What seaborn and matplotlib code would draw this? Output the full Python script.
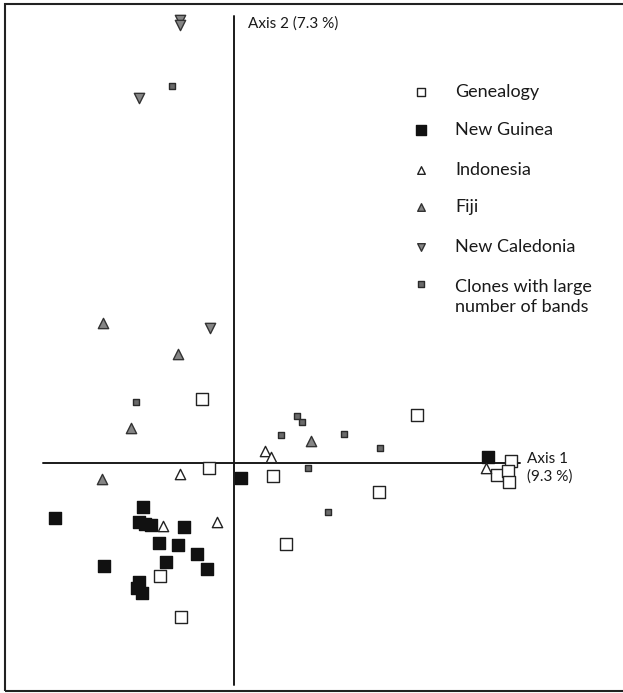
import matplotlib.pyplot as plt
import seaborn as sns
import numpy as np
import pandas as pd
from matplotlib.patches import Rectangle

# ordination scores (axis 1, axis 2), arbitrary units
genealogy_x = [-1.28, -1.00, 1.56, 2.08, 5.80, 7.32, -2.96, -2.12, 11.08, 10.52, 10.96, 11.00]
genealogy_y = [2.56, -0.20, -0.52, -3.24, -1.16, 1.92, -4.52, -6.16, 0.08, -0.48, -0.32, -0.76]

new_guinea_x = [-3.64, -7.16, -3.80, -3.56, -3.32, -2.00, -3.00, -2.24, -1.48, -5.20, -2.72,
                -1.08, -3.80, -3.88, -3.68, 0.28, 10.16]
new_guinea_y = [-1.76, -2.20, -2.36, -2.44, -2.48, -2.56, -3.20, -3.28, -3.64, -4.12, -3.96,
                -4.24, -4.76, -5.00, -5.20, -0.60, 0.24]

indonesia_x = [1.24, 1.48, -2.16, -2.84, -0.68, 10.08]
indonesia_y = [0.48, 0.24, -0.44, -2.52, -2.36, -0.20]

fiji_x = [-5.24, -2.24, -4.12, 3.08, -5.28]
fiji_y = [5.60, 4.36, 1.40, 0.88, -0.64]

new_caledonia_x = [-2.16, -2.16, -3.80, -0.96]
new_caledonia_y = [17.72, 17.52, 14.60, 5.40]

clones_x = [-2.48, -3.92, 2.52, 2.72, 1.88, 4.40, 5.84, 2.96, 3.76]
clones_y = [15.08, 2.44, 1.88, 1.64, 1.12, 1.16, 0.60, -0.20, -1.96]

group_labels = ["Genealogy", "New Guinea", "Indonesia", "Fiji", "New Caledonia",
                ["Clones with large", "number of bands"]]

sns.set_style("white")
plt.rcParams['font.family'] = ['Lato', 'DejaVu Sans']

fig = plt.figure(figsize=(6.23, 6.93), dpi=100)
ax = fig.add_axes([0, 0, 1, 1])

# x, y, marker, face, edge, size, legend size
groups = [
    (genealogy_x, genealogy_y, 's', 'white', '#222222', 72, 40),
    (new_guinea_x, new_guinea_y, 's', '#111111', '#111111', 85, 45),
    (indonesia_x, indonesia_y, '^', 'white', '#222222', 55, 30),
    (fiji_x, fiji_y, '^', '#858585', '#333333', 55, 30),
    (new_caledonia_x, new_caledonia_y, 'v', '#858585', '#333333', 55, 30),
    (clones_x, clones_y, 's', '#6a6a6a', '#2a2a2a', 18, 16),
]

for xs, ys, marker, fc, ec, s, _ in groups:
    df = pd.DataFrame({'x': xs, 'y': ys})
    sns.scatterplot(data=df, x='x', y='y', marker=marker, s=s, color=fc,
                    edgecolor=ec, linewidth=1.0, ax=ax, legend=False, zorder=3)

# the two ordination axes
ax.plot([0, 0], [-8.88, 17.88], color='#1a1a1a', lw=1.4, zorder=2)
ax.plot([-7.64, 11.44], [0, 0], color='#1a1a1a', lw=1.4, zorder=2)

ax.text(0.56, 17.56, "Axis 2 (7.3 %)", fontsize=11, va='center', ha='left', color='#1a1a1a')
ax.text(11.72, 0.16, "Axis 1", fontsize=11, va='center', ha='left', color='#1a1a1a')
ax.text(11.72, -0.56, "(9.3 %)", fontsize=11, va='center', ha='left', color='#1a1a1a')

ax.set_xlim(-9.36, 15.56)
ax.set_ylim(-9.2, 18.52)
ax.set_axis_off()

# legend drawn by hand, in axes fractions
row_y = [92, 130, 170, 207, 247, 284]
for (xs, ys, marker, fc, ec, s, ls), label, py in zip(groups, group_labels, row_y):
    fy = 1 - py / 693
    ax.scatter([421 / 623], [fy], marker=marker, s=ls, facecolor=fc, edgecolor=ec,
               linewidth=1.0, transform=ax.transAxes, clip_on=False)
    lines = label if isinstance(label, list) else [label]
    for i, line in enumerate(lines):
        ty = 1 - (py + 3 * (len(lines) > 1) + 20 * i) / 693
        ax.text(455 / 623, ty, line, transform=ax.transAxes, fontsize=13,
                va='center', ha='left', color='#1a1a1a')

# frame around the figure
ax.add_patch(Rectangle((5 / 623, 1 - 691 / 693), 630 / 623, 687 / 693, transform=ax.transAxes,
                       fill=False, edgecolor='#222222', lw=1.5, clip_on=False))

fig.savefig('out.png', dpi=100)
